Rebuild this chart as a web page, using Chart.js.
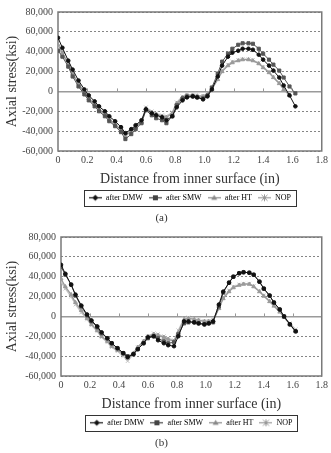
<!DOCTYPE html>
<html>
<head>
<meta charset="utf-8">
<script src="https://cdn.jsdelivr.net/npm/chart.js@4.4.0/dist/chart.umd.min.js"></script>
<style>
  html, body { margin: 0; padding: 0; background: #fff; }
  .box { position: relative; width: 331px; }
  #boxA { height: 226px; }
  #boxB { height: 227px; }
</style>
</head>
<body>
<div class="box" id="boxA"><canvas id="chartA"></canvas></div>
<div class="box" id="boxB"><canvas id="chartB"></canvas></div>
<script>
// distance from inner surface (in), shared by every series
const distance = [0, 0.03, 0.07, 0.1, 0.14, 0.18, 0.21, 0.25, 0.28, 0.32, 0.35, 0.39, 0.43, 0.46,
  0.5, 0.53, 0.57, 0.6, 0.64, 0.67, 0.71, 0.74, 0.78, 0.81, 0.85, 0.88, 0.92, 0.95, 0.99,
  1.02, 1.05, 1.09, 1.12, 1.16, 1.19, 1.23, 1.26, 1.3, 1.33, 1.37, 1.4, 1.44, 1.47, 1.51,
  1.54, 1.58, 1.62];

// (a) axial stress
const dmwA = [54000, 44000, 31000, 22000, 11000, 2000, -4000, -10000, -15000, -20000, -25000, -30000, -36000, -42000,
  -38000, -34000, -29000, -18000, -22000, -24000, -26000, -29000, -25000, -16000, -9000, -6000, -5000, -6000, -8000,
  -5000, 2000, 15000, 26000, 35000, 39000, 41000, 43000, 43000, 42000, 37000, 32000, 26000, 21000, 14000,
  6000, -4000, -15000];
const smwA = [41000, 35000, 25000, 15000, 5000, -3000, -9000, -15000, -20000, -25000, -30000, -35000, -41000, -48000,
  -43000, -38000, -32000, -19000, -24000, -27000, -29000, -32000, -25000, -14000, -7000, -5000, -5000, -6000, -7000,
  -4000, 4000, 18000, 30000, 38000, 43000, 47000, 48500, 48500, 48000, 43000, 38000, 32000, 27000, 21000,
  14000, 5000, -2000];
const htA = [47000, 39000, 28000, 18000, 8000, -1000, -7000, -13000, -18000, -23000, -28000, -33000, -39000, -45000,
  -40000, -36000, -31000, -17000, -21000, -23000, -25000, -26000, -22000, -12000, -6000, -4000, -4000, -4500, -5000,
  -3000, 2000, 12000, 20000, 26000, 29000, 31000, 32000, 32000, 31000, 28000, 24000, 19000, 14000, 8000,
  2000, -4000, null];
const nopA = [45000, 37000, 27000, 17000, 7000, -2000, -8000, -14000, -19000, -24000, -29000, -34000, -40000, -44000,
  -39000, -35000, -30000, -16000, -20000, -22000, -24000, -25000, -21000, -11000, -5000, -3500, -3500, -4000, -4500,
  -2500, 3000, 13000, 21000, 27000, 30000, 31500, 32500, 32500, 31500, 28500, 24500, 19500, 14500, 8500,
  3000, -3000, null];

// (b) axial stress
const dmwB = [52000, 43000, 32000, 22000, 11000, 2000, -4000, -10000, -16000, -22000, -27000, -32000, -37000, -41000,
  -38000, -33000, -27000, -21000, -20000, -24000, -27000, -29000, -30000, -20000, -5000, -5000, -6000, -7000, -8000,
  -7000, -5000, 12000, 25000, 34000, 40000, 43500, 44500, 44000, 42000, 35000, 28000, 21000, 14000, 7000,
  0, -8000, -15000];
const smwB = [50000, 42000, 32000, 21000, 10000, 1000, -5000, -11000, -17000, -22000, -27000, -32000, -37000, -40000,
  -38000, -33000, -27000, -22000, -20000, -22000, -25000, -27000, -26000, -18000, -7000, -6000, -6000, -7000, -8000,
  -7000, -6000, 10000, 24000, 34000, 40000, 43500, 44500, 44000, 42000, 35000, 28000, 21000, 14000, 7000,
  0, -8000, -15000];
const htB = [38000, 30000, 22000, 14000, 6000, -2000, -8000, -14000, -20000, -25000, -30000, -34000, -38000, -42000,
  -37000, -31000, -25000, -20000, -18000, -19000, -21000, -23000, -25000, -16000, -3000, -2000, -3000, -4000, -5000,
  -5000, -4000, 8000, 18000, 25000, 29000, 31500, 32500, 32500, 30000, 25000, 20500, 15000, 10500, 4500,
  -1000, -8000, -15000];
const nopB = [35000, 28000, 20000, 12000, 4000, -3000, -9000, -15000, -21000, -26000, -31000, -35000, -40000, -45000,
  -38000, -31000, -25000, -20000, -17000, -18000, -20000, -22000, -24000, -14000, -2000, -1000, -2500, -3500, -4500,
  -4500, -3500, 9000, 19000, 26000, 30000, 32000, 33000, 33000, 30500, 25500, 21000, 15500, 11000, 5000,
  -500, -7000, -13000];

const seriesNames = ['after DMW', 'after SMW', 'after HT', 'NOP'];
const lineColors = ['#111111', '#555555', '#9a9a9a', '#c4c4c4'];
const iconColors = ['#111111', '#444444', '#888888', '#999999'];
const pointStyles = ['circle', 'rect', 'triangle', 'crossRot'];
const pointSizes = [1.8, 2.2, 2.2, 2.6];
const iconKinds = ['diamond', 'square', 'triangle', 'star'];

const FONT = "'Liberation Serif', 'DejaVu Serif', serif";
const ICON_W = 13;

function toPoints(ys) {
  const pts = [];
  ys.forEach((v, i) => { if (v !== null) pts.push({ x: distance[i], y: v }); });
  return pts;
}

// little line+marker pictures for the legend
function makeIcon(color, kind) {
  const c = document.createElement('canvas');
  c.width = ICON_W; c.height = 9;
  const g = c.getContext('2d');
  g.strokeStyle = color; g.fillStyle = color; g.lineWidth = 1.2;
  g.beginPath(); g.moveTo(0, 4.5); g.lineTo(ICON_W, 4.5); g.stroke();
  const cx = ICON_W / 2, cy = 4.5;
  g.beginPath();
  if (kind === 'diamond') {
    g.moveTo(cx, cy - 3); g.lineTo(cx + 3, cy); g.lineTo(cx, cy + 3); g.lineTo(cx - 3, cy); g.closePath(); g.fill();
  } else if (kind === 'square') {
    g.fillRect(cx - 2.5, cy - 2.5, 5, 5);
  } else if (kind === 'triangle') {
    g.moveTo(cx, cy - 3); g.lineTo(cx + 3, cy + 2); g.lineTo(cx - 3, cy + 2); g.closePath(); g.fill();
  } else {
    g.lineWidth = 1;
    g.moveTo(cx - 3, cy - 3); g.lineTo(cx + 3, cy + 3);
    g.moveTo(cx + 3, cy - 3); g.lineTo(cx - 3, cy + 3);
    g.moveTo(cx, cy - 3.5); g.lineTo(cx, cy + 3.5);
    g.stroke();
  }
  return c;
}
const icons = iconKinds.map((k, i) => makeIcon(iconColors[i], k));

const framePlugin = {
  id: 'frame',
  beforeDatasetsDraw(chart) {
    const { ctx, chartArea: a, scales: { x, y } } = chart;
    ctx.save();
    const y0 = y.getPixelForValue(0);
    ctx.strokeStyle = '#999'; ctx.lineWidth = 1;
    x.ticks.forEach(t => {
      if (t.value <= 0 || t.value >= 1.8) return;
      const px = Math.round(x.getPixelForValue(t.value)) + 0.5;
      ctx.beginPath(); ctx.moveTo(px, y0 - 3); ctx.lineTo(px, y0); ctx.stroke();
    });
    ctx.strokeStyle = '#7a7a7a'; ctx.lineWidth = 1.5;
    ctx.strokeRect(a.left, a.top, a.right - a.left, a.bottom - a.top);
    ctx.restore();
  },
  afterDraw(chart) {
    const hb = chart.legend.legendHitBoxes;
    if (!hb || !hb.length) return;
    const l = Math.min(...hb.map(b => b.left)) - 5;
    const r = Math.max(...hb.map(b => b.left + b.width)) + 5;
    const t = Math.min(...hb.map(b => b.top)) - 4;
    const btm = Math.max(...hb.map(b => b.top + b.height)) + 4;
    const ctx = chart.ctx;
    ctx.save();
    ctx.strokeStyle = '#333'; ctx.lineWidth = 1;
    ctx.strokeRect(Math.round(l) + 0.5, Math.round(t) + 0.5, Math.round(r - l), Math.round(btm - t));
    ctx.restore();
  }
};

function makeChart(id, caption, values, axisWidth, padTop, padBottom) {
  const datasets = values.map((vals, i) => ({
    label: seriesNames[i],
    data: toPoints(vals),
    showLine: true,
    borderColor: lineColors[i],
    backgroundColor: lineColors[i],
    borderWidth: i < 2 ? 1 : 1.3,
    pointStyle: pointStyles[i],
    pointRadius: pointSizes[i],
    pointBorderWidth: 1,
    pointHoverRadius: pointSizes[i],
    tension: 0
  }));

  return new Chart(document.getElementById(id), {
    type: 'scatter',
    data: { datasets },
    options: {
      responsive: true,
      maintainAspectRatio: false,
      animation: false,
      layout: { padding: { top: padTop, right: 8, bottom: padBottom, left: 0 } },
      scales: {
        x: {
          min: 0, max: 1.8,
          ticks: { stepSize: 0.2, padding: 3, color: '#444', font: { family: FONT, size: 10 } },
          grid: { display: false, drawTicks: false },
          border: { display: false },
          title: {
            display: true, text: 'Distance from inner surface (in)', color: '#333',
            font: { family: FONT, size: 14 }, padding: { top: 2, bottom: 0 }
          }
        },
        y: {
          min: -60000, max: 80000,
          afterFit(scale) { scale.width = axisWidth; },
          ticks: { stepSize: 20000, padding: 5, color: '#444', font: { family: FONT, size: 10 } },
          grid: {
            drawTicks: false,
            color: c => (c.tick && c.tick.value === 0) ? '#9a9a9a' : '#666',
            lineWidth: c => (c.tick && c.tick.value === 0) ? 1.5 : 0.8
          },
          border: {
            display: false,
            dash: c => (c.tick && c.tick.value !== 0) ? [2, 2] : []
          },
          title: {
            display: true, text: 'Axial stress(ksi)', color: '#333',
            font: { family: FONT, size: 14 }, padding: { top: 4, bottom: 2 }
          }
        }
      },
      plugins: {
        legend: {
          position: 'bottom',
          fullSize: false,
          labels: {
            usePointStyle: true,
            pointStyleWidth: ICON_W,
            boxHeight: 8,
            padding: 6,
            color: '#333',
            font: { family: FONT, size: 8 },
            generateLabels: chart => chart.data.datasets.map((ds, i) => ({
              text: ds.label, pointStyle: icons[i], datasetIndex: i,
              fillStyle: lineColors[i], strokeStyle: lineColors[i], lineWidth: 0, hidden: false
            }))
          }
        },
        title: {
          display: true, text: caption, position: 'bottom', color: '#333',
          font: { family: FONT, size: 11, weight: 'normal' }, padding: { top: 0, bottom: 0 }
        },
        tooltip: { enabled: false }
      }
    },
    plugins: [framePlugin]
  });
}

makeChart('chartA', '(a)', [dmwA, smwA, htA, nopA], 58, 12, 1);
makeChart('chartB', '(b)', [dmwB, smwB, htB, nopB], 61, 10, 3);
</script>
</body>
</html>
